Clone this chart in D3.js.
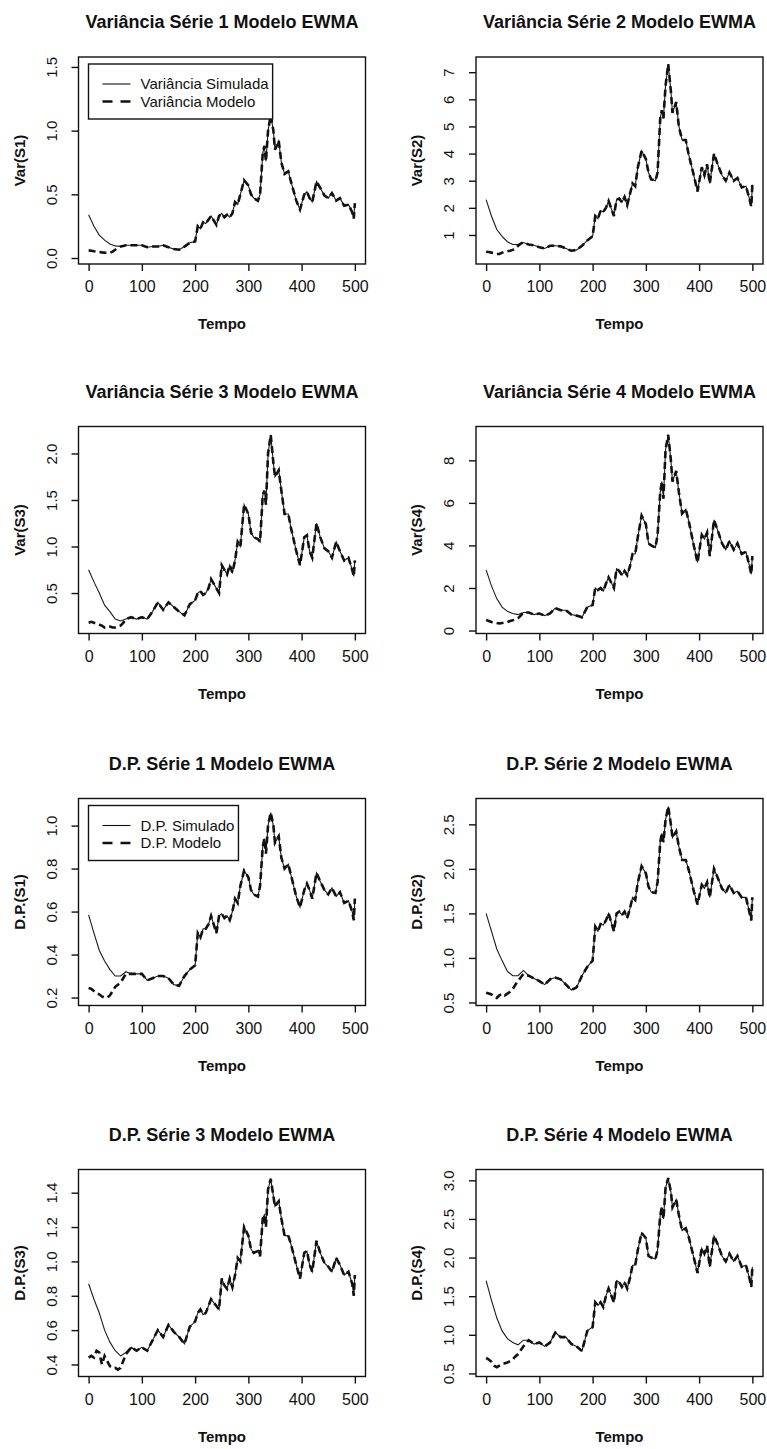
<!DOCTYPE html>
<html>
<head>
<meta charset="utf-8">
<script src="https://cdn.jsdelivr.net/npm/d3@7"></script>
<style>
  body { margin: 0; background: #fff; }
  svg text { font-family: "Liberation Sans", Arial, Helvetica, sans-serif; fill: #111; }
</style>
</head>
<body>
<svg id="chart" width="767" height="1449"></svg>
<script>
// instantes de tempo
const tempo = [0,10,20,30,40,50,60,70,80,90,100,110,120,130,140,150,160,170,180,190,200,205,210,215,220,225,230,240,245,250,255,260,265,270,275,280,285,292,300,305,310,318,322,327,330,333,337,342,347,350,357,362,368,375,380,390,397,405,410,415,420,428,435,443,450,457,465,472,480,488,495,498,500];
// inicio da serie do modelo (antes de encostar na simulada)
const tempoInicio = [0,5,10,15,20,25,30,35,40,45,50,55,60,65,70];
const tempoX = [0,100,200,300,400,500];

const varS1Simulada = [0.34,0.25,0.18,0.14,0.11,0.095,0.09,0.1,0.1,0.1,0.1,0.085,0.09,0.09,0.1,0.085,0.07,0.065,0.09,0.12,0.13,0.25,0.23,0.28,0.27,0.3,0.33,0.26,0.33,0.35,0.32,0.34,0.32,0.35,0.44,0.42,0.5,0.61,0.57,0.5,0.47,0.45,0.5,0.82,0.88,0.76,1.0,1.12,1.0,0.85,0.92,0.75,0.66,0.68,0.6,0.45,0.38,0.5,0.52,0.47,0.44,0.6,0.55,0.49,0.47,0.51,0.45,0.47,0.41,0.42,0.36,0.31,0.43];
const varS1ModeloInicio = [0.06,0.057,0.053,0.05,0.047,0.044,0.042,0.041,0.04,0.05,0.065,0.08,0.09,0.095,0.1];

const varS2Simulada = [2.3,1.7,1.2,0.95,0.75,0.65,0.65,0.72,0.65,0.62,0.55,0.5,0.6,0.6,0.58,0.5,0.42,0.45,0.6,0.8,0.95,1.7,1.6,1.9,1.85,2.0,2.25,1.7,2.3,2.35,2.2,2.4,2.1,2.5,2.9,2.8,3.5,4.1,3.8,3.3,3.05,3.0,3.3,5.3,5.6,5.3,6.5,7.3,6.3,5.5,5.9,5.0,4.5,4.5,4.0,3.2,2.6,3.5,3.2,3.6,2.9,4.0,3.6,3.2,3.0,3.3,3.0,3.1,2.75,2.8,2.3,2.05,2.85];
const varS2ModeloInicio = [0.38,0.37,0.35,0.33,0.3,0.3,0.35,0.38,0.4,0.42,0.45,0.5,0.6,0.68,0.72];

const varS3Simulada = [0.75,0.62,0.5,0.37,0.3,0.22,0.2,0.22,0.24,0.22,0.24,0.22,0.3,0.4,0.32,0.4,0.35,0.3,0.26,0.38,0.42,0.5,0.52,0.48,0.5,0.55,0.65,0.55,0.5,0.8,0.75,0.7,0.8,0.72,0.85,1.05,1.0,1.45,1.35,1.15,1.1,1.08,1.05,1.55,1.6,1.45,2.0,2.2,1.9,1.75,1.82,1.6,1.35,1.35,1.2,0.95,0.8,1.1,1.12,0.95,0.88,1.25,1.1,0.98,0.95,0.88,1.05,0.95,0.85,0.88,0.75,0.68,0.85];
const varS3ModeloInicio = [0.18,0.19,0.18,0.17,0.16,0.15,0.13,0.14,0.14,0.13,0.13,0.14,0.15,0.18,0.22];

const varS4Simulada = [2.85,2.1,1.5,1.1,0.9,0.8,0.75,0.85,0.85,0.75,0.8,0.7,0.8,1.05,0.95,0.95,0.75,0.7,0.62,1.1,1.2,2.0,1.9,2.0,1.85,2.2,2.5,2.0,2.9,2.8,2.6,2.8,2.6,3.0,3.6,3.6,4.4,5.4,5.0,4.1,4.0,3.9,4.5,6.5,7.0,6.2,8.5,9.2,8.0,7.0,7.5,6.5,5.5,5.7,5.2,4.0,3.2,4.5,4.3,4.6,3.5,5.2,4.7,4.1,3.8,4.2,3.8,4.1,3.6,3.7,3.0,2.65,3.5];
const varS4ModeloInicio = [0.5,0.45,0.4,0.38,0.35,0.33,0.35,0.38,0.4,0.45,0.48,0.52,0.58,0.7,0.85];

const dpS1Simulado = [0.585,0.5,0.42,0.37,0.33,0.3,0.3,0.32,0.31,0.31,0.31,0.28,0.29,0.3,0.3,0.29,0.26,0.255,0.3,0.33,0.35,0.5,0.48,0.52,0.52,0.54,0.58,0.5,0.58,0.59,0.57,0.58,0.56,0.6,0.66,0.64,0.72,0.79,0.76,0.7,0.68,0.67,0.72,0.9,0.94,0.87,1.0,1.06,1.0,0.92,0.95,0.85,0.8,0.82,0.77,0.67,0.62,0.7,0.73,0.7,0.66,0.78,0.74,0.7,0.68,0.71,0.67,0.69,0.64,0.65,0.6,0.56,0.66];
const dpS1ModeloInicio = [0.245,0.24,0.23,0.22,0.215,0.205,0.2,0.2,0.21,0.23,0.25,0.26,0.27,0.29,0.31];

const dpS2Simulado = [1.5,1.3,1.1,0.97,0.85,0.8,0.8,0.86,0.8,0.77,0.74,0.7,0.76,0.78,0.76,0.7,0.64,0.67,0.8,0.9,0.97,1.35,1.3,1.38,1.37,1.42,1.5,1.3,1.5,1.52,1.48,1.52,1.45,1.55,1.68,1.65,1.85,2.03,1.95,1.8,1.74,1.73,1.85,2.3,2.4,2.3,2.55,2.7,2.5,2.35,2.42,2.25,2.1,2.1,2.0,1.75,1.6,1.82,1.78,1.85,1.68,2.0,1.9,1.78,1.73,1.82,1.73,1.75,1.68,1.68,1.5,1.42,1.68];
const dpS2ModeloInicio = [0.61,0.6,0.59,0.56,0.55,0.58,0.6,0.58,0.6,0.62,0.65,0.7,0.74,0.78,0.82];

const dpS3Simulado = [0.87,0.78,0.7,0.6,0.53,0.48,0.45,0.47,0.5,0.48,0.5,0.48,0.54,0.6,0.56,0.63,0.59,0.56,0.52,0.62,0.65,0.7,0.72,0.69,0.7,0.74,0.78,0.74,0.72,0.9,0.86,0.84,0.9,0.85,0.92,1.02,1.0,1.2,1.15,1.07,1.05,1.06,1.03,1.25,1.27,1.2,1.42,1.48,1.38,1.32,1.35,1.25,1.15,1.15,1.1,0.98,0.9,1.05,1.06,0.98,0.94,1.12,1.05,0.99,0.97,0.94,1.02,0.98,0.92,0.94,0.87,0.8,0.92];
const dpS3ModeloInicio = [0.44,0.45,0.44,0.48,0.47,0.4,0.45,0.42,0.39,0.38,0.38,0.37,0.38,0.42,0.46];

const dpS4Simulado = [1.7,1.45,1.22,1.05,0.95,0.9,0.87,0.93,0.93,0.88,0.9,0.85,0.9,1.03,0.97,0.97,0.88,0.85,0.79,1.05,1.1,1.42,1.38,1.42,1.36,1.5,1.6,1.42,1.7,1.68,1.62,1.68,1.6,1.73,1.9,1.9,2.1,2.32,2.25,2.02,2.0,1.98,2.1,2.55,2.65,2.5,2.9,3.03,2.85,2.65,2.75,2.55,2.35,2.38,2.28,2.0,1.8,2.12,2.05,2.15,1.88,2.28,2.17,2.02,1.95,2.05,1.95,2.02,1.88,1.9,1.72,1.62,1.88];
const dpS4ModeloInicio = [0.7,0.68,0.65,0.6,0.58,0.6,0.62,0.63,0.64,0.66,0.68,0.72,0.75,0.8,0.85];

const titulos = [
    "Variância Série 1 Modelo EWMA", "Variância Série 2 Modelo EWMA",
    "Variância Série 3 Modelo EWMA", "Variância Série 4 Modelo EWMA",
    "D.P. Série 1 Modelo EWMA", "D.P. Série 2 Modelo EWMA",
    "D.P. Série 3 Modelo EWMA", "D.P. Série 4 Modelo EWMA"
];
const rotulosY = ["Var(S1)", "Var(S2)", "Var(S3)", "Var(S4)", "D.P.(S1)", "D.P.(S2)", "D.P.(S3)", "D.P.(S4)"];
const dominiosY = [[-0.047, 1.578], [-0.07, 7.56], [0.065, 2.29], [-0.14, 9.59], [0.163, 1.126], [0.466, 2.79], [0.33, 1.535], [0.46, 3.14]];
const ticksY = [
    [0, 0.5, 1.0, 1.5], [1, 2, 3, 4, 5, 6, 7], [0.5, 1.0, 1.5, 2.0], [0, 2, 4, 6, 8],
    [0.2, 0.4, 0.6, 0.8, 1.0], [0.5, 1.0, 1.5, 2.0, 2.5], [0.4, 0.6, 0.8, 1.0, 1.2, 1.4], [0.5, 1.0, 1.5, 2.0, 2.5, 3.0]
];
const formatosY = [".1f", "d", ".1f", "d", ".1f", ".1f", ".1f", ".1f"];
const legendaVar = ["Variância Simulada", "Variância Modelo"];
const legendaDP = ["D.P. Simulado", "D.P. Modelo"];

const simuladas = [varS1Simulada, varS2Simulada, varS3Simulada, varS4Simulada, dpS1Simulado, dpS2Simulado, dpS3Simulado, dpS4Simulado];
const modelosInicio = [varS1ModeloInicio, varS2ModeloInicio, varS3ModeloInicio, varS4ModeloInicio, dpS1ModeloInicio, dpS2ModeloInicio, dpS3ModeloInicio, dpS4ModeloInicio];

// a serie do modelo coincide com a simulada depois do inicio
function montaModelo(inicio, simulada) {
    let ultimo = tempoInicio[tempoInicio.length - 1];
    let pts = tempoInicio.map((t, i) => [t, inicio[i]]);
    tempo.forEach((t, i) => { if (t > ultimo) pts.push([t, simulada[i]]); });
    return pts;
}

class PainelEWMA {
    constructor(_config, _data) {
        this.config = {
            parentElement: _config.parentElement,
            left: _config.left,
            top: _config.top,
            width: _config.width || 287,
            height: _config.height || 207,
            title: _config.title,
            yLabel: _config.yLabel,
            yDomain: _config.yDomain,
            yTicks: _config.yTicks,
            yFormat: _config.yFormat,
            legend: _config.legend || null,
            id: _config.id
        }
        this.simulada = _data.simulada;
        this.modelo = _data.modelo;
        this.initVis();
    }

    initVis() {
        let vis = this;
        let w = vis.config.width, h = vis.config.height;

        vis.xScale = d3.scaleLinear().domain([-19, 520]).range([0, w]);
        vis.yScale = d3.scaleLinear().domain(vis.config.yDomain).range([h, 0]);

        vis.g = d3.select(vis.config.parentElement).append("g")
            .attr("transform", `translate(${vis.config.left},${vis.config.top})`);

        vis.g.append("clipPath").attr("id", "clip-" + vis.config.id)
            .append("rect").attr("width", w).attr("height", h);

        vis.line = d3.line()
            .x(d => vis.xScale(d[0]))
            .y(d => vis.yScale(d[1]));

        vis.renderVis();
    }

    renderVis() {
        let vis = this;
        let w = vis.config.width, h = vis.config.height;

        // series
        let lines = vis.g.append("g").attr("clip-path", `url(#clip-${vis.config.id})`);
        lines.append("path")
            .datum(tempo.map((t, i) => [t, vis.simulada[i]]))
            .attr("d", vis.line)
            .attr("fill", "none")
            .attr("stroke", "#1a1a1a")
            .attr("stroke-width", 1.1);
        lines.append("path")
            .datum(vis.modelo)
            .attr("d", vis.line)
            .attr("fill", "none")
            .attr("stroke", "#111")
            .attr("stroke-width", 2.6)
            .attr("stroke-dasharray", "7,4");

        // caixa
        vis.g.append("rect")
            .attr("width", w).attr("height", h)
            .attr("fill", "none").attr("stroke", "#111").attr("stroke-width", 1.4);

        // eixo x
        let xAxis = vis.g.append("g")
            .attr("transform", `translate(0,${h})`)
            .call(d3.axisBottom(vis.xScale).tickValues(tempoX).tickSize(7).tickSizeOuter(0).tickPadding(10));
        xAxis.select(".domain").remove();
        xAxis.selectAll("line").attr("stroke", "#111").attr("stroke-width", 1.4);
        xAxis.selectAll("text").attr("font-size", "16px").style("font-family", "'Liberation Sans', Arial, sans-serif").attr("fill", "#111");

        // eixo y com rotulos na vertical, como no R
        let yAxis = vis.g.append("g")
            .call(d3.axisLeft(vis.yScale).tickValues(vis.config.yTicks).tickFormat(d3.format(vis.config.yFormat)).tickSize(7).tickSizeOuter(0));
        yAxis.select(".domain").remove();
        yAxis.selectAll("line").attr("stroke", "#111").attr("stroke-width", 1.4);
        yAxis.selectAll("text")
            .attr("x", null).attr("dy", null)
            .attr("transform", "translate(-22,0) rotate(-90)")
            .attr("text-anchor", "middle")
            .attr("font-size", "15px")
            .style("font-family", "'Liberation Sans', Arial, sans-serif")
            .attr("fill", "#111");

        // titulo e rotulos
        vis.g.append("text")
            .attr("x", w / 2).attr("y", -29)
            .attr("text-anchor", "middle")
            .attr("font-size", "18px").attr("font-weight", "bold")
            .text(vis.config.title);
        vis.g.append("text")
            .attr("x", w / 2).attr("y", h + 65)
            .attr("text-anchor", "middle")
            .attr("font-size", "15px").attr("font-weight", "bold")
            .text("Tempo");
        vis.g.append("text")
            .attr("transform", `translate(-54,${h / 2}) rotate(-90)`)
            .attr("text-anchor", "middle")
            .attr("font-size", "15px").attr("font-weight", "bold")
            .text(vis.config.yLabel);

        if (vis.config.legend) vis.drawLegend();
    }

    drawLegend() {
        let vis = this;
        let leg = vis.g.append("g").attr("transform", "translate(10,7)");
        let box = leg.append("rect")
            .attr("height", 55)
            .attr("fill", "#fff").attr("stroke", "#111").attr("stroke-width", 1.4);

        let maxW = 0;
        vis.config.legend.forEach((label, i) => {
            let y = 20 + i * 17.5;
            leg.append("line")
                .attr("x1", 14).attr("x2", 42).attr("y1", y).attr("y2", y)
                .attr("stroke", "#111")
                .attr("stroke-width", i == 0 ? 1.1 : 2.6)
                .attr("stroke-dasharray", i == 0 ? null : "10,8");
            let t = leg.append("text")
                .attr("x", 52).attr("y", y + 5)
                .attr("font-size", "15px")
                .text(label);
            maxW = Math.max(maxW, t.node().getComputedTextLength());
        });
        box.attr("width", 52 + maxW + 4);
    }
}

const colunas = [78.5, 476];
const linhas = [57, 426.5, 798.5, 1169.5];

titulos.forEach((titulo, i) => {
    new PainelEWMA({
        parentElement: "#chart",
        id: i,
        left: colunas[i % 2],
        top: linhas[Math.floor(i / 2)],
        title: titulo,
        yLabel: rotulosY[i],
        yDomain: dominiosY[i],
        yTicks: ticksY[i],
        yFormat: formatosY[i],
        legend: i == 0 ? legendaVar : (i == 4 ? legendaDP : null)
    }, {
        simulada: simuladas[i],
        modelo: montaModelo(modelosInicio[i], simuladas[i])
    });
});
</script>
</body>
</html>
